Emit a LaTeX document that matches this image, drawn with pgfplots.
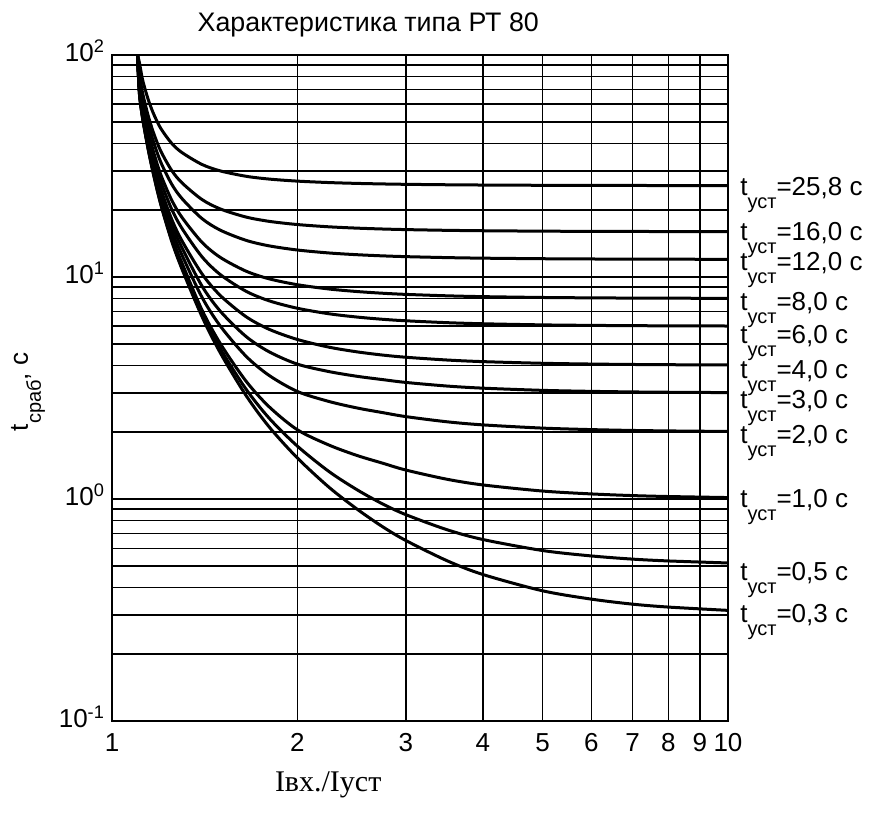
\documentclass[border=0pt]{standalone}
\usepackage{fontspec}
\setmainfont{Liberation Sans}
\newfontfamily\seriffont{Liberation Serif}
\usepackage{pgfplots}
\pgfplotsset{compat=1.18}
\newcommand{\tsub}[1]{t\raisebox{-6.5pt}{\fontsize{10}{12}\selectfont #1}}
\pgfplotsset{crv/.style={black, line width=1.5pt, smooth, mark=none, solid}}
\begin{document}
\begin{tikzpicture}
\begin{axis}[
  scale only axis, width=308pt, height=333pt,
  xmode=log, ymode=log, xmin=1, xmax=10, ymin=0.1, ymax=100,
  xtick={1,2,3,4,5,6,7,8,9,10},
  xticklabels={1,2,3,4,5,6,7,8,9,10},
  ytick={0.1,1,10,100},
  yticklabels={10\textsuperscript{-1},10\textsuperscript{0},10\textsuperscript{1},10\textsuperscript{2}},
  minor ytick={0.2,0.3,0.4,0.5,0.6,0.7,0.8,0.9,2,3,4,5,6,7,8,9,20,30,40,50,60,70,80,90},
  xmajorgrids, ymajorgrids, yminorgrids,
  major grid style={black, line width=0.75pt},
  minor grid style={black, line width=0.75pt},
  tick style={draw=none},
  axis line style={line width=1pt},
  ticklabel style={font=\fontsize{13}{15}\selectfont},
  typeset ticklabels with strut,
  xticklabel style={yshift=-1pt},
  clip mode=individual,
]
% t = 25.8
\addplot[crv] coordinates {(1.10,100)(1.108,92.4)(1.12,78.3)(1.135,68.2)(1.15,60.8)(1.17,53.8)(1.2,46.7)(1.25,40.0)(1.3,36.3)(1.4,32.13)(1.5,30.04)(1.65,28.43)(1.8,27.61)(2,27.03)(2.25,26.63)(2.5,26.40)(2.75,26.25)(3,26.15)(3.5,26.027)(4,25.957)(5,25.886)(6,25.854)(7,25.836)(8,25.826)(10,25.815)};
% t = 16
\addplot[crv] coordinates {(1.10,100)(1.108,82.6)(1.12,68.5)(1.135,58.4)(1.15,51.0)(1.17,44.0)(1.2,36.9)(1.25,30.2)(1.3,26.5)(1.4,22.33)(1.5,20.24)(1.65,18.63)(1.8,17.81)(2,17.23)(2.25,16.83)(2.5,16.60)(2.75,16.45)(3,16.35)(3.5,16.227)(4,16.157)(5,16.086)(6,16.054)(7,16.036)(8,16.026)(10,16.015)};
% t = 12
\addplot[crv] coordinates {(1.10,100)(1.108,78.6)(1.12,64.5)(1.135,54.4)(1.15,47.0)(1.17,40.0)(1.2,32.9)(1.25,26.2)(1.3,22.5)(1.4,18.33)(1.5,16.24)(1.65,14.63)(1.8,13.81)(2,13.23)(2.25,12.83)(2.5,12.60)(2.75,12.45)(3,12.35)(3.5,12.227)(4,12.157)(5,12.086)(6,12.054)(7,12.036)(8,12.026)(10,12.015)};
% t = 8
\addplot[crv] coordinates {(1.10,100)(1.108,74.6)(1.12,60.5)(1.135,50.4)(1.15,43.0)(1.17,36.0)(1.2,28.9)(1.25,22.2)(1.3,18.5)(1.4,14.33)(1.5,12.24)(1.65,10.63)(1.8,9.81)(2,9.23)(2.25,8.83)(2.5,8.60)(2.75,8.45)(3,8.35)(3.5,8.227)(4,8.157)(5,8.086)(6,8.054)(7,8.036)(8,8.026)(10,8.015)};
% t = 6
\addplot[crv] coordinates {(1.10,100)(1.108,72.6)(1.12,58.5)(1.135,48.4)(1.15,41.0)(1.17,34.0)(1.2,26.9)(1.25,20.2)(1.3,16.5)(1.4,12.33)(1.5,10.24)(1.65,8.63)(1.8,7.81)(2,7.23)(2.25,6.83)(2.5,6.60)(2.75,6.45)(3,6.35)(3.5,6.227)(4,6.157)(5,6.086)(6,6.054)(7,6.036)(8,6.026)(10,6.015)};
% t = 4
\addplot[crv] coordinates {(1.10,100)(1.108,70.6)(1.12,56.5)(1.135,46.4)(1.15,39.0)(1.17,32.0)(1.2,24.9)(1.25,18.2)(1.3,14.5)(1.4,10.33)(1.5,8.24)(1.65,6.63)(1.8,5.81)(2,5.23)(2.25,4.83)(2.5,4.60)(2.75,4.45)(3,4.35)(3.5,4.227)(4,4.157)(5,4.086)(6,4.054)(7,4.036)(8,4.026)(10,4.015)};
% t = 3
\addplot[crv] coordinates {(1.10,100)(1.108,69.6)(1.12,55.5)(1.135,45.4)(1.15,38.0)(1.17,31.0)(1.2,23.9)(1.25,17.2)(1.3,13.5)(1.4,9.1)(1.5,7.0)(1.65,5.4)(1.8,4.6)(2,4.05)(2.25,3.75)(2.5,3.57)(2.75,3.45)(3,3.35)(3.5,3.227)(4,3.157)(5,3.086)(6,3.054)(7,3.036)(8,3.026)(10,3.015)};
% t = 2
\addplot[crv] coordinates {(1.10,100)(1.108,68.6)(1.12,54.5)(1.135,44.4)(1.15,37.0)(1.17,30.0)(1.2,22.9)(1.25,16.2)(1.3,12.5)(1.4,8.1)(1.5,6.0)(1.65,4.4)(1.8,3.6)(2,3.05)(2.25,2.75)(2.5,2.57)(2.75,2.45)(3,2.35)(3.5,2.227)(4,2.157)(5,2.086)(6,2.054)(7,2.036)(8,2.026)(10,2.015)};
% t = 1
\addplot[crv] coordinates {(1.10,100)(1.108,67.6)(1.12,53.5)(1.135,43.4)(1.15,36.0)(1.17,29.0)(1.2,21.9)(1.25,15.2)(1.3,11.5)(1.4,7.1)(1.5,5.0)(1.65,3.4)(1.8,2.6)(2,2.05)(2.25,1.75)(2.5,1.57)(2.75,1.45)(3,1.35)(3.5,1.227)(4,1.157)(5,1.086)(6,1.054)(7,1.036)(8,1.026)(10,1.015)};
% t = 0.5
\addplot[crv] coordinates {(1.10,100)(1.108,67.1)(1.12,53.0)(1.135,42.9)(1.15,35.5)(1.17,28.5)(1.2,21.4)(1.25,14.7)(1.3,11.0)(1.4,6.83)(1.5,4.74)(1.65,3.13)(1.8,2.31)(2,1.73)(2.25,1.33)(2.5,1.10)(2.75,0.95)(3,0.85)(3.5,0.727)(4,0.657)(5,0.586)(6,0.554)(7,0.536)(8,0.526)(10,0.515)};
% t = 0.3
\addplot[crv] coordinates {(1.10,100)(1.108,66.9)(1.12,52.8)(1.135,42.7)(1.15,35.3)(1.17,28.3)(1.2,21.2)(1.25,14.5)(1.3,10.8)(1.4,6.63)(1.5,4.54)(1.65,2.93)(1.8,2.11)(2,1.53)(2.25,1.13)(2.5,0.90)(2.75,0.75)(3,0.65)(3.5,0.527)(4,0.457)(5,0.386)(6,0.354)(7,0.336)(8,0.326)(10,0.315)};

\begin{scope}[every node/.style={anchor=base west, xshift=6pt, yshift=-4.7pt, inner sep=0pt, font=\fontsize{13}{15}\selectfont}]
\node at (axis cs:10,25.8) {\tsub{уст}=25,8 с};
\node at (axis cs:10,16.1) {\tsub{уст}=16,0 с};
\node at (axis cs:10,11.8) {\tsub{уст}=12,0 с};
\node at (axis cs:10,7.8) {\tsub{уст}=8,0 с};
\node at (axis cs:10,5.54) {\tsub{уст}=6,0 с};
\node at (axis cs:10,3.85) {\tsub{уст}=4,0 с};
\node at (axis cs:10,2.82) {\tsub{уст}=3,0 с};
\node at (axis cs:10,1.96) {\tsub{уст}=2,0 с};
\node at (axis cs:10,1.01) {\tsub{уст}=1,0 с};
\node at (axis cs:10,0.474) {\tsub{уст}=0,5 с};
\node at (axis cs:10,0.306) {\tsub{уст}=0,3 с};
\end{scope}
\node[font=\fontsize{13.4}{15}\selectfont] at ([yshift=15pt]rel axis cs:0.416,1) {Характеристика типа РТ 80};
\node[font=\fontsize{13}{15}\selectfont, rotate=90] at ([xshift=-42pt]rel axis cs:0,0.494) {\tsub{сраб}, с};
\node[font=\seriffont\fontsize{15}{17}\selectfont] at ([yshift=-32pt]rel axis cs:0.351,0) {Iвх./Iуст};
\end{axis}
\pgfresetboundingbox
\path[use as bounding box] ([shift={(-56pt,-46.5pt)}]current axis.south west) rectangle ([shift={(73pt,27.5pt)}]current axis.north east);
\end{tikzpicture}
\end{document}
